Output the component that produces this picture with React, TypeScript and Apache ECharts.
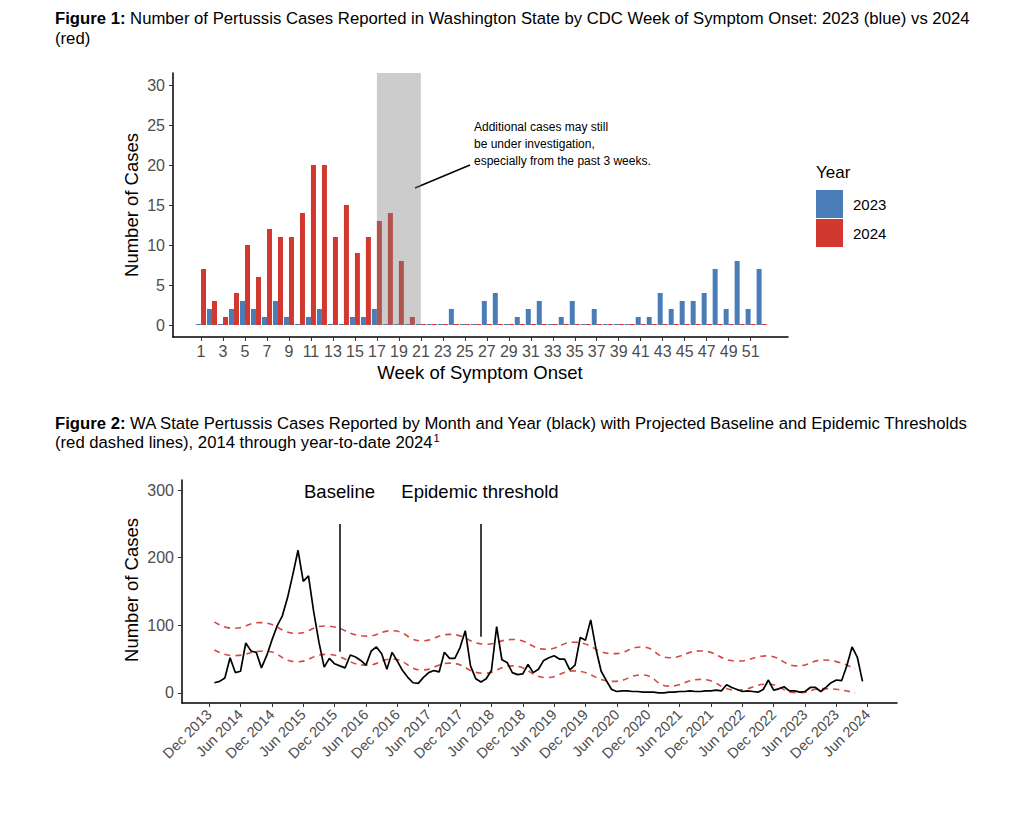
import React, { useEffect, useRef } from "react";
import * as echarts from "echarts";

const FONT = "'Liberation Sans', Arial, Helvetica, sans-serif";
const BLUE = "#4a7db8";
const RED = "#d1382f";

// Figure 1: weekly cases
const WEEKS = [
  1, 2, 3, 4, 5, 6, 7, 8, 9, 10, 11, 12, 13, 14, 15, 16, 17, 18, 19, 20, 21, 22, 23, 24, 25, 26,
  27, 28, 29, 30, 31, 32, 33, 34, 35, 36, 37, 38, 39, 40, 41, 42, 43, 44, 45, 46, 47, 48, 49, 50, 51, 52,
];
const CASES_2023 = [
  0, 2, 0, 2, 3, 2, 1, 3, 1, 0, 1, 2, 0, 0, 1, 1, 2, 0, 0, 0, 0, 0, 0, 2, 0, 0,
  3, 4, 0, 1, 2, 3, 0, 1, 3, 0, 2, 0, 0, 0, 1, 1, 4, 2, 3, 3, 4, 7, 2, 8, 2, 7,
];
const CASES_2024 = [
  7, 3, 1, 4, 10, 6, 12, 11, 11, 14, 20, 20, 11, 15, 9, 11, 13, 14, 8, 1, 0, 0, 0, 0, 0, 0,
  0, 0, 0, 0, 0, 0, 0, 0, 0, 0, 0, 0, 0, 0, 0, 0, 0, 0, 0, 0, 0, 0, 0, 0, 0, 0,
];
const WEEK_TICKS = [1, 3, 5, 7, 9, 11, 13, 15, 17, 19, 21, 23, 25, 27, 29, 31, 33, 35, 37, 39, 41, 43, 45, 47, 49, 51];
const FIG1_Y_TICKS = [0, 5, 10, 15, 20, 25, 30];
const SHADE_WEEKS = [17, 21];

// Figure 2: monthly cases, month index 0 = Jan 2014
const MONTHLY_CASES = [
  15, 17, 22, 52, 30, 32, 74, 62, 60, 37, 55, 78,
  99, 114, 141, 175, 211, 165, 173, 120, 75, 38, 51, 43,
  40, 37, 56, 53, 48, 41, 62, 68, 58, 35, 60, 47,
  33, 23, 15, 14, 23, 30, 33, 31, 60, 51, 51, 67,
  92, 40, 21, 16, 21, 33, 98, 49, 45, 30, 27, 28,
  42, 30, 35, 48, 52, 55, 50, 50, 34, 41, 82, 78,
  108, 65, 32, 18, 5, 2, 3, 3, 2, 2, 1, 1,
  1, 0, 0, 1, 1, 2, 2, 3, 2, 2, 3, 3,
  4, 3, 12, 8, 5, 2, 3, 2, 1, 5, 19, 4,
  6, 9, 3, 3, 1, 2, 8, 8, 2, 8, 15, 19,
  18, 40, 68, 53, 17,
];
// epidemic threshold (upper) and baseline (lower): [month index, cases]
const THRESHOLD = [
  [0, 105], [3.6, 95.5], [8.8, 104], [15.8, 88], [21, 99], [29.2, 84], [34, 92], [39.7, 77],
  [45, 86.6], [52, 72], [57, 79], [63.6, 64.5], [68.7, 75], [76.4, 58], [81.8, 68], [87, 52],
  [93, 62], [100, 47], [105.7, 54.7], [111.5, 40], [116.6, 48.7], [122.6, 35],
];
const BASELINE = [
  [0, 63.5], [3.6, 55], [9.5, 62], [15.8, 46], [21.3, 57], [29.2, 41], [34, 50], [39.7, 34],
  [45, 44], [51.5, 29], [57, 40], [63.6, 22.6], [68.7, 32.5], [76.4, 17], [81.8, 26.6], [87, 10],
  [93, 20], [100, 4], [105.7, 12.8], [111.5, 0], [116.6, 6.3], [122.6, 0],
];
const MONTH_TICKS = [-1, 5, 11, 17, 23, 29, 35, 41, 47, 53, 59, 65, 71, 77, 83, 89, 95, 101, 107, 113, 119, 125];
const MONTH_TICK_LABELS = [
  "Dec 2013", "Jun 2014", "Dec 2014", "Jun 2015", "Dec 2015", "Jun 2016", "Dec 2016", "Jun 2017",
  "Dec 2017", "Jun 2018", "Dec 2018", "Jun 2019", "Dec 2019", "Jun 2020", "Dec 2020", "Jun 2021",
  "Dec 2021", "Jun 2022", "Dec 2022", "Jun 2023", "Dec 2023", "Jun 2024",
];
const FIG2_Y_TICKS = [0, 100, 200, 300];
const ANNOT_BASELINE = { month: 23.9, from: 250, to: 61 };
const ANNOT_THRESHOLD = { month: 50.9, from: 250, to: 83 };

const axisLineStyle = { color: "#000", width: 1.5 };
const tickStyle = { color: "#333", width: 1 };
const tickLabel = { fontSize: 16, color: "#4d4d4d", fontFamily: FONT };

function textEl(text: string, x: number, y: number, size: number, extra: any = {}) {
  return {
    type: "text",
    x,
    y,
    silent: true,
    style: {
      text,
      fontSize: size,
      fontFamily: FONT,
      fill: "#000",
      textAlign: "left",
      textVerticalAlign: "middle",
      ...extra,
    },
  };
}

function richTitle(text: string, x: number, y: number) {
  return {
    type: "text",
    x,
    y,
    silent: true,
    style: {
      text,
      fontSize: 16.7,
      fontFamily: FONT,
      fill: "#000",
      textVerticalAlign: "middle",
      rich: {
        b: { fontWeight: "bold", fontSize: 16.7, fontFamily: FONT, fill: "#000" },
        n: { fontSize: 16.7, fontFamily: FONT, fill: "#000" },
        sup: { fontSize: 11, fontFamily: FONT, fill: "#000", verticalAlign: "top", padding: [0, 0, 9, 1] },
      },
    },
  };
}

export default function App() {
  const ref = useRef<HTMLDivElement>(null);

  useEffect(() => {
    if (!ref.current) return;
    const chart = echarts.init(ref.current, undefined, { renderer: "svg" });

    const option: any = {
      animation: false,
      backgroundColor: "#fff",
      textStyle: { fontFamily: FONT },
      grid: [
        { left: 173, top: 73, width: 615, height: 264 },
        { left: 182, top: 480, width: 715, height: 223 },
      ],
      legend: {
        data: ["2023", "2024"],
        orient: "vertical",
        left: 816,
        top: 190,
        padding: 0,
        itemWidth: 27,
        itemHeight: 28,
        itemGap: 1,
        icon: "rect",
        selectedMode: false,
        textStyle: { fontSize: 15, color: "#000", fontFamily: FONT, padding: [0, 0, 0, 5] },
      },
      xAxis: [
        {
          gridIndex: 0,
          type: "value",
          min: -1.55,
          max: 54.4,
          axisLine: { onZero: false, lineStyle: axisLineStyle },
          axisTick: { customValues: WEEK_TICKS, length: 4, lineStyle: tickStyle },
          axisLabel: { customValues: WEEK_TICKS, margin: 6, ...tickLabel },
          splitLine: { show: false },
        },
        {
          gridIndex: 1,
          type: "value",
          min: -6.2,
          max: 130.6,
          axisLine: { onZero: false, lineStyle: axisLineStyle },
          axisTick: { customValues: MONTH_TICKS, length: 4, lineStyle: tickStyle },
          axisLabel: {
            customValues: MONTH_TICKS,
            rotate: 45,
            margin: 9,
            ...tickLabel,
            fontSize: 14.5,
            formatter: (v: number) => {
              const i = MONTH_TICKS.indexOf(Math.round(v));
              return i >= 0 ? MONTH_TICK_LABELS[i] : "";
            },
          },
          splitLine: { show: false },
        },
      ],
      yAxis: [
        {
          gridIndex: 0,
          type: "value",
          min: -1.5,
          max: 31.5,
          axisLine: { show: true, onZero: false, lineStyle: axisLineStyle },
          axisTick: { show: true, customValues: FIG1_Y_TICKS, length: 4, lineStyle: tickStyle },
          axisLabel: { customValues: FIG1_Y_TICKS, margin: 8, ...tickLabel },
          splitLine: { show: false },
        },
        {
          gridIndex: 1,
          type: "value",
          min: -15,
          max: 315,
          axisLine: { show: true, onZero: false, lineStyle: axisLineStyle },
          axisTick: { show: true, customValues: FIG2_Y_TICKS, length: 4, lineStyle: tickStyle },
          axisLabel: { customValues: FIG2_Y_TICKS, margin: 8, ...tickLabel },
          splitLine: { show: false },
        },
      ],
      series: [
        {
          name: "2023",
          type: "bar",
          xAxisIndex: 0,
          yAxisIndex: 0,
          data: WEEKS.map((w, i) => [w, CASES_2023[i]]),
          barWidth: 5,
          barGap: "0%",
          barMinHeight: 1,
          itemStyle: { color: BLUE },
          z: 2,
        },
        {
          name: "2024",
          type: "bar",
          xAxisIndex: 0,
          yAxisIndex: 0,
          data: WEEKS.map((w, i) => [w, CASES_2024[i]]),
          barWidth: 5,
          barGap: "0%",
          barMinHeight: 1,
          itemStyle: { color: RED },
          z: 2,
        },
        {
          name: "shade",
          type: "custom",
          xAxisIndex: 0,
          yAxisIndex: 0,
          z: 10,
          silent: true,
          data: [[SHADE_WEEKS[0], SHADE_WEEKS[1]]],
          renderItem: (params: any, api: any) => {
            const p1 = api.coord([api.value(0), 31.5]);
            const p2 = api.coord([api.value(1), 0]);
            return {
              type: "rect",
              shape: { x: p1[0], y: p1[1], width: p2[0] - p1[0], height: p2[1] - p1[1] },
              style: { fill: "rgba(128,128,128,0.4)" },
            };
          },
        },
        {
          name: "Threshold",
          type: "line",
          xAxisIndex: 1,
          yAxisIndex: 1,
          data: THRESHOLD,
          smooth: 0.5,
          symbol: "none",
          lineStyle: { color: "#d24a44", width: 1.6, type: [6, 5] },
          z: 3,
        },
        {
          name: "Baseline",
          type: "line",
          xAxisIndex: 1,
          yAxisIndex: 1,
          data: BASELINE,
          smooth: 0.5,
          symbol: "none",
          lineStyle: { color: "#d24a44", width: 1.6, type: [6, 5] },
          z: 3,
        },
        {
          name: "Cases",
          type: "line",
          xAxisIndex: 1,
          yAxisIndex: 1,
          data: MONTHLY_CASES.map((v, i) => [i, v]),
          symbol: "none",
          lineStyle: { color: "#000", width: 1.7 },
          z: 4,
          markLine: {
            silent: true,
            symbol: ["none", "none"],
            label: { show: false },
            lineStyle: { color: "#000", width: 1.5, type: "solid" },
            data: [
              [{ coord: [ANNOT_BASELINE.month, ANNOT_BASELINE.from] }, { coord: [ANNOT_BASELINE.month, ANNOT_BASELINE.to] }],
              [{ coord: [ANNOT_THRESHOLD.month, ANNOT_THRESHOLD.from] }, { coord: [ANNOT_THRESHOLD.month, ANNOT_THRESHOLD.to] }],
            ],
          },
        },
      ],
      graphic: [
        richTitle(
          "{b|Figure 1:}{n| Number of Pertussis Cases Reported in Washington State by CDC Week of Symptom Onset: 2023 (blue) vs 2024}",
          55,
          18
        ),
        textEl("(red)", 55, 38, 16.7),
        richTitle(
          "{b|Figure 2:}{n| WA State Pertussis Cases Reported by Month and Year (black) with Projected Baseline and Epidemic Thresholds}",
          55,
          423
        ),
        richTitle("{n|(red dashed lines), 2014 through year-to-date 2024}{sup|1}", 55, 442),
        textEl("Number of Cases", 131, 205, 18.5, { textAlign: "center" }),
        textEl("Week of Symptom Onset", 480, 372, 18.5, { textAlign: "center" }),
        textEl("Year", 816, 172, 17),
        textEl("Additional cases may still", 474, 127, 12),
        textEl("be under investigation,", 474, 144, 12),
        textEl("especially from the past 3 weeks.", 474, 161, 12),
        {
          type: "line",
          silent: true,
          shape: { x1: 415, y1: 188, x2: 470, y2: 165 },
          style: { stroke: "#000", lineWidth: 1.4 },
        },
        textEl("Baseline", 339.5, 491, 18.5, { textAlign: "center" }),
        textEl("Epidemic threshold", 480, 491, 18.5, { textAlign: "center" }),
      ],
    };
    // rotated y-axis titles
    option.graphic[4].rotation = Math.PI / 2;
    option.graphic.push({ ...textEl("Number of Cases", 131, 590, 18.5, { textAlign: "center" }), rotation: Math.PI / 2 });

    chart.setOption(option);
    return () => chart.dispose();
  }, []);

  return (
    <div
      ref={ref}
      style={{ position: "absolute", left: 0, top: 0, width: 1024, height: 825, background: "#fff" }}
    />
  );
}
